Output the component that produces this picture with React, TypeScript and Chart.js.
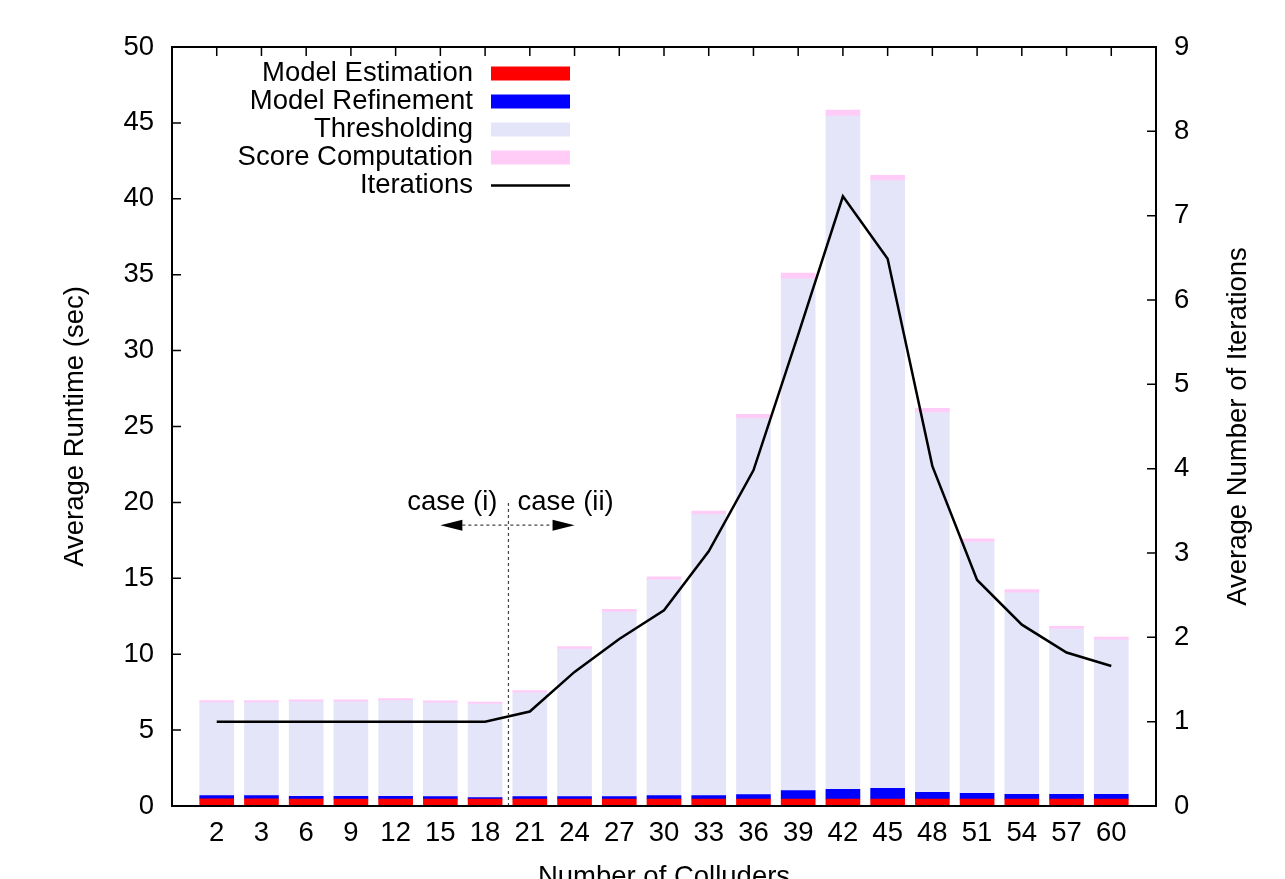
import React, { useEffect, useRef } from 'react';
import { Chart, registerables } from 'chart.js';

Chart.register(...registerables);

// ---- data ----
const categories = ['2', '3', '6', '9', '12', '15', '18', '21', '24', '27', '30', '33', '36', '39', '42', '45', '48', '51', '54', '57', '60'];
const modelEstimation = [0.47, 0.47, 0.45, 0.45, 0.45, 0.45, 0.45, 0.45, 0.45, 0.45, 0.45, 0.45, 0.45, 0.45, 0.45, 0.45, 0.45, 0.45, 0.45, 0.45, 0.45];
const modelRefinement = [0.22, 0.22, 0.18, 0.18, 0.18, 0.17, 0.1, 0.17, 0.17, 0.17, 0.24, 0.24, 0.3, 0.56, 0.65, 0.72, 0.45, 0.38, 0.32, 0.32, 0.32];
const thresholding = [6.12, 6.12, 6.24, 6.24, 6.31, 6.18, 6.17, 6.83, 9.71, 12.15, 14.21, 18.52, 24.77, 33.72, 44.35, 40.03, 25.02, 16.55, 13.28, 10.88, 10.18];
const scoreComputation = [0.13, 0.13, 0.13, 0.13, 0.13, 0.13, 0.13, 0.15, 0.17, 0.18, 0.2, 0.22, 0.28, 0.37, 0.4, 0.35, 0.28, 0.22, 0.2, 0.18, 0.17];
const iterations = [1, 1, 1, 1, 1, 1, 1, 1.12, 1.59, 1.98, 2.32, 3.02, 3.98, 5.59, 7.23, 6.49, 4.03, 2.68, 2.15, 1.82, 1.66];

const runtimeTicks = { min: 0, max: 50, step: 5 };
const iterationTicks = { min: 0, max: 9, step: 1 };

// annotation: boundary between case (i) and case (ii)
const caseLeftCategory = '18';
const caseRightCategory = '21';
const caseLineTop = 20; // sec
const caseArrowY = 18.5; // sec
const caseArrowSpan = 1.5; // categories each side
const caseLabels = ['case (i)', 'case (ii)'];

const y2Title = 'Average Number of Iterations';

const FONT_FAMILY = '"Liberation Sans", Arial, Helvetica, sans-serif';
const FS = 27.5;

export default function App() {
  const ref = useRef<HTMLCanvasElement>(null);

  useEffect(() => {
    if (!ref.current) return;
    const pad = (a: number[]) => [null, ...a, null];
    const labels = ['', ...categories, ''];
    const font = { family: FONT_FAMILY, size: FS };

    const gnuplotPlugin = {
      id: 'gnuplotDecor',
      beforeDatasetsDraw(chart: any) {
        const { ctx, chartArea, scales } = chart;
        const { left, right, top } = chartArea;
        const T = 9;
        ctx.save();
        ctx.strokeStyle = '#000';
        ctx.lineWidth = 1.5;
        ctx.beginPath();
        categories.forEach((_, i) => {
          const px = scales.x.getPixelForValue(i + 1);
          ctx.moveTo(px, top);
          ctx.lineTo(px, top + T);
        });
        scales.y.ticks.forEach((t: any) => {
          const py = scales.y.getPixelForValue(t.value);
          ctx.moveTo(left, py);
          ctx.lineTo(left + T, py);
        });
        scales.y2.ticks.forEach((t: any) => {
          const py = scales.y2.getPixelForValue(t.value);
          ctx.moveTo(right, py);
          ctx.lineTo(right - T, py);
        });
        ctx.stroke();

        // right axis title, reading bottom-to-top
        ctx.save();
        ctx.translate(1238, (chartArea.top + chartArea.bottom) / 2);
        ctx.rotate(-Math.PI / 2);
        ctx.font = `${FS}px ${FONT_FAMILY}`;
        ctx.fillStyle = '#000';
        ctx.textAlign = 'center';
        ctx.textBaseline = 'middle';
        ctx.fillText(y2Title, 0, 0);
        ctx.restore();
        ctx.restore();
      },
      afterDatasetsDraw(chart: any) {
        const { ctx, chartArea, scales } = chart;
        const { left, right, top, bottom } = chartArea;
        ctx.save();

        // annotation
        const iL = categories.indexOf(caseLeftCategory) + 1;
        const iR = categories.indexOf(caseRightCategory) + 1;
        const mid = (iL + iR) / 2;
        const xb = scales.x.getPixelForValue(mid) + 1;
        const y0 = scales.y.getPixelForValue(0);
        const yTop = scales.y.getPixelForValue(caseLineTop);
        const yA = scales.y.getPixelForValue(caseArrowY);
        const xA1 = scales.x.getPixelForValue(mid - caseArrowSpan);
        const xA2 = scales.x.getPixelForValue(mid + caseArrowSpan);
        const AL = 22, AH = 5.5;
        ctx.strokeStyle = '#444';
        ctx.lineWidth = 1.2;
        ctx.setLineDash([3, 3]);
        ctx.beginPath();
        ctx.moveTo(xb, y0);
        ctx.lineTo(xb, yTop);
        ctx.moveTo(xA1 + AL, yA);
        ctx.lineTo(xA2 - AL, yA);
        ctx.stroke();
        ctx.setLineDash([]);
        ctx.fillStyle = '#000';
        ctx.beginPath();
        ctx.moveTo(xA1, yA);
        ctx.lineTo(xA1 + AL, yA - AH);
        ctx.lineTo(xA1 + AL, yA + AH);
        ctx.closePath();
        ctx.fill();
        ctx.beginPath();
        ctx.moveTo(xA2, yA);
        ctx.lineTo(xA2 - AL, yA - AH);
        ctx.lineTo(xA2 - AL, yA + AH);
        ctx.closePath();
        ctx.fill();
        ctx.font = `${FS}px ${FONT_FAMILY}`;
        ctx.textBaseline = 'middle';
        ctx.textAlign = 'right';
        ctx.fillText(caseLabels[0], xb - 11, yTop);
        ctx.textAlign = 'left';
        ctx.fillText(caseLabels[1], xb + 9, yTop);

        // legend
        const textRight = left + 301;
        const sx1 = left + 319;
        const sx2 = left + 398;
        const rowY0 = top + 26.5;
        const rowH = 28;
        chart.data.datasets.forEach((ds: any, i: number) => {
          const y = rowY0 + i * rowH;
          ctx.fillStyle = '#000';
          ctx.textAlign = 'right';
          ctx.textBaseline = 'middle';
          ctx.fillText(ds.label, textRight, y);
          if (ds.type === 'line') {
            ctx.strokeStyle = ds.borderColor;
            ctx.lineWidth = ds.borderWidth;
            ctx.beginPath();
            ctx.moveTo(sx1, y);
            ctx.lineTo(sx2, y);
            ctx.stroke();
          } else {
            ctx.fillStyle = ds.backgroundColor;
            ctx.fillRect(sx1, y - 7, sx2 - sx1, 14);
          }
        });

        // frame
        ctx.strokeStyle = '#000';
        ctx.lineWidth = 2;
        ctx.strokeRect(left, top, right - left, bottom - top);
        ctx.restore();
      },
    };

    const barCommon = { yAxisID: 'y', barThickness: 34, borderWidth: 0, order: 0 };

    const chart = new Chart(ref.current, {
      type: 'bar',
      data: {
        labels,
        datasets: [
          { ...barCommon, label: 'Model Estimation', data: pad(modelEstimation), backgroundColor: '#ff0000' },
          { ...barCommon, label: 'Model Refinement', data: pad(modelRefinement), backgroundColor: '#0000ff' },
          { ...barCommon, label: 'Thresholding', data: pad(thresholding), backgroundColor: '#e5e5fa' },
          { ...barCommon, label: 'Score Computation', data: pad(scoreComputation), backgroundColor: '#ffccf8' },
          {
            type: 'line',
            label: 'Iterations',
            data: pad(iterations),
            yAxisID: 'y2',
            borderColor: '#000',
            borderWidth: 2.5,
            pointRadius: 0,
            fill: false,
            tension: 0,
            order: -1,
          } as any,
        ],
      },
      options: {
        responsive: false,
        animation: false,
        devicePixelRatio: 1,
        layout: { padding: { top: 47, left: 0, right: 0, bottom: 0 } },
        plugins: { legend: { display: false }, tooltip: { enabled: false } },
        scales: {
          x: {
            type: 'category',
            offset: false,
            stacked: true,
            grid: { display: false, drawTicks: false },
            border: { display: false },
            ticks: { font, color: '#000', padding: 11, autoSkip: false, maxRotation: 0 },
            title: { display: true, text: 'Number of Colluders', font, color: '#000', padding: { top: 0, bottom: -15 } },
            afterFit: (s: any) => { s.height = 73; },
          },
          y: {
            position: 'left',
            stacked: true,
            min: runtimeTicks.min,
            max: runtimeTicks.max,
            grid: { display: false, drawTicks: false },
            border: { display: false },
            ticks: { stepSize: runtimeTicks.step, font, color: '#000', padding: 18 },
            title: { display: true, text: 'Average Runtime (sec)', font, color: '#000', padding: { top: 59, bottom: 0 } },
            afterFit: (s: any) => { s.width = 172; },
          },
          y2: {
            position: 'right',
            min: iterationTicks.min,
            max: iterationTicks.max,
            grid: { display: false, drawTicks: false },
            border: { display: false },
            ticks: { stepSize: iterationTicks.step, font, color: '#000', padding: 18 },
            title: { display: false },
            afterFit: (s: any) => { s.width = 129; },
          },
        },
      } as any,
      plugins: [gnuplotPlugin],
    });
    return () => chart.destroy();
  }, []);

  return (
    <div style={{ position: 'fixed', left: 0, top: 0, width: 1285, height: 879, background: '#fff', overflow: 'hidden' }}>
      <canvas ref={ref} width={1285} height={879} style={{ display: 'block' }} />
    </div>
  );
}
